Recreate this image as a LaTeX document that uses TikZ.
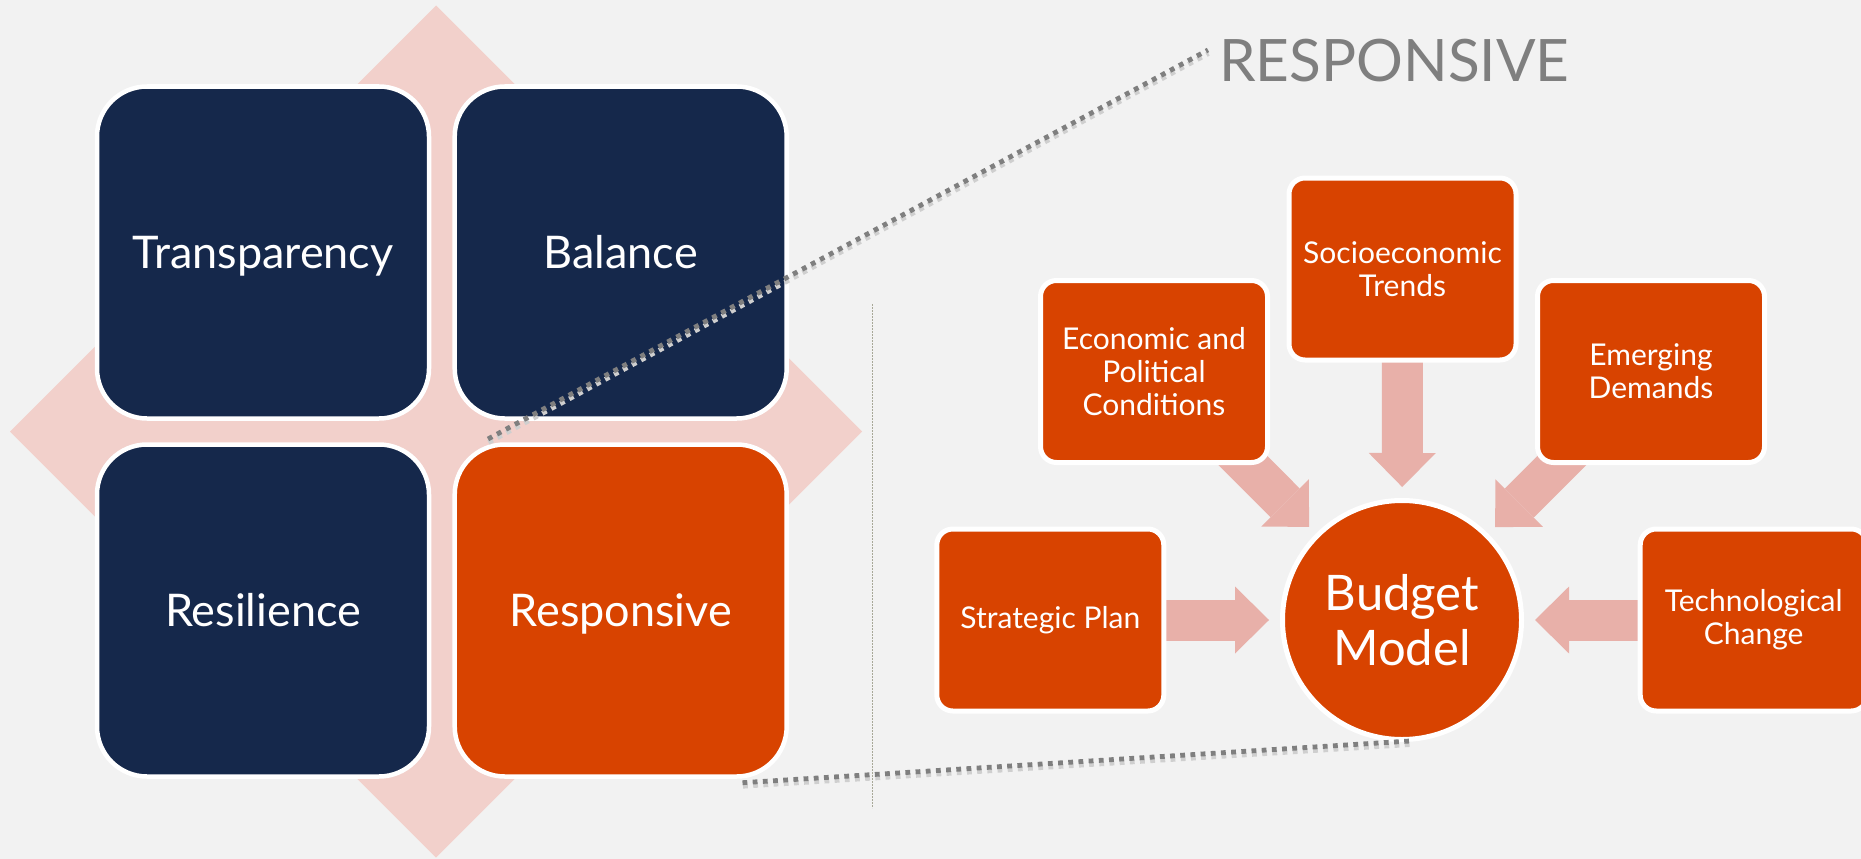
\documentclass[tikz,border=0pt]{standalone}
\usepackage{fontspec}
\setmainfont{Lato}
\usetikzlibrary{arrows.meta,calc}
\definecolor{pagebg}{HTML}{F2F2F2}
\definecolor{navy}{HTML}{15284B}
\definecolor{orng}{HTML}{D84300}
\definecolor{diam}{HTML}{F2D0CB}
\definecolor{arrowpink}{HTML}{E8B0A9}
\definecolor{dotgray}{HTML}{7F7F7F}
\definecolor{shadowgray}{HTML}{CFCFCF}
\definecolor{vlinecol}{HTML}{A8A898}
\pgfdeclarelayer{bg}
\pgfdeclarelayer{arr}
\pgfsetlayers{bg,arr,main}
\tikzset{
  bigbox/.style={rounded corners=50pt, draw=white, line width=4.5pt,
    minimum width=332pt, minimum height=332pt, inner sep=0pt,
    text=white, font=\fontsize{45}{50}\selectfont,
    text height=32pt, text depth=0pt},
  smallbox/.style={rounded corners=16pt, draw=white, line width=5pt, fill=orng,
    minimum width=227pt, minimum height=182pt, inner sep=0pt,
    text=white, font=\fontsize{30}{33}\selectfont, align=center},
  hubcircle/.style={circle, draw=white, line width=5pt, fill=orng,
    minimum size=239pt, inner sep=0pt, text=white,
    font=\fontsize{49}{55}\selectfont, align=center},
  bigarrow/.style={draw=arrowpink, line width=41pt,
    -{Triangle[length=34pt 0 0, width=67pt 0 0, line width=0pt]}},
  callout/.style={draw=dotgray, line width=4.8pt, dash pattern=on 4.8pt off 5.4pt},
  calloutshadow/.style={draw=shadowgray, line width=4.8pt, dash pattern=on 4.8pt off 5.4pt},
  titletext/.style={text=dotgray, font=\fontsize{58.5}{64}\selectfont, inner sep=0pt}
}
\begin{document}
\begin{tikzpicture}[x=1pt,y=-1pt]
\useasboundingbox (0,0) rectangle (1861,859);
\begin{pgfonlayer}{bg}
  \fill[pagebg] (0,0) rectangle (1861,859);
  \fill[diam] (436,5.5) -- (862,431.5) -- (436,857.5) -- (10,431.5) -- cycle;
\end{pgfonlayer}

% left quadrant
\node[bigbox, fill=navy] (transp) at (263,252.5) {Transparency};
\node[bigbox, fill=navy] (bal) at (620.7,252.5) {Balance};
\node[bigbox, fill=navy] (resil) at (263,610.5) {Resilience};
\node[bigbox, fill=orng] (resp) at (620.7,610.5) {Responsive};

% right diagram
\node[hubcircle] (budget) at (1402,620) {Budget\\Model};
\node[smallbox] (eco) at (1154,371.5) {Economic and\\Political\\Conditions};
\node[smallbox] (soc) at (1402.5,269) {Socioeconomic\\Trends};
\node[smallbox] (emer) at (1651,371.5) {Emerging\\Demands};
\node[smallbox] (strat) at (1050.3,620) {Strategic Plan};
\node[smallbox] (tech) at (1753.7,620) {Technological\\Change};

\coordinate (ecotip) at ($(budget.center)!131.5pt!(eco.center)$);
\coordinate (soctip) at ($(budget.center)!133pt!(soc.center)$);
\coordinate (emertip) at ($(budget.center)!131.5pt!(emer.center)$);
\coordinate (strattip) at ($(budget.center)!133pt!(strat.center)$);
\coordinate (techtip) at ($(budget.center)!133pt!(tech.center)$);
\begin{pgfonlayer}{arr}
  \draw[bigarrow] (eco.center) -- (ecotip);
  \draw[bigarrow] (soc.center) -- (soctip);
  \draw[bigarrow] (emer.center) -- (emertip);
  \draw[bigarrow] (strat.center) -- (strattip);
  \draw[bigarrow] (tech.center) -- (techtip);
\end{pgfonlayer}

% title and call-out lines
\node[titletext, anchor=base west] (title) at (1219,81.7) {RESPONSIVE};
\coordinate (calloutA) at (488,439);
\coordinate (calloutB) at (1208,50);
\coordinate (calloutC) at (742.5,782.7);
\coordinate (calloutD) at (1410,741);
\coordinate (sepTop) at (872.5,304);
\coordinate (sepBot) at (872.5,808);
\draw[vlinecol, line width=1.6pt, dash pattern=on 1.6pt off 1.4pt] (sepTop) -- (sepBot);
\draw[calloutshadow] ([shift={(0.5,3.5)}]calloutA) -- ([shift={(0.5,3.5)}]calloutB);
\draw[calloutshadow] ([shift={(0.5,3.5)}]calloutC) -- ([shift={(0.5,3.5)}]calloutD);
\draw[callout] (calloutA) -- (calloutB);
\draw[callout] (calloutC) -- (calloutD);
\end{tikzpicture}
\end{document}
